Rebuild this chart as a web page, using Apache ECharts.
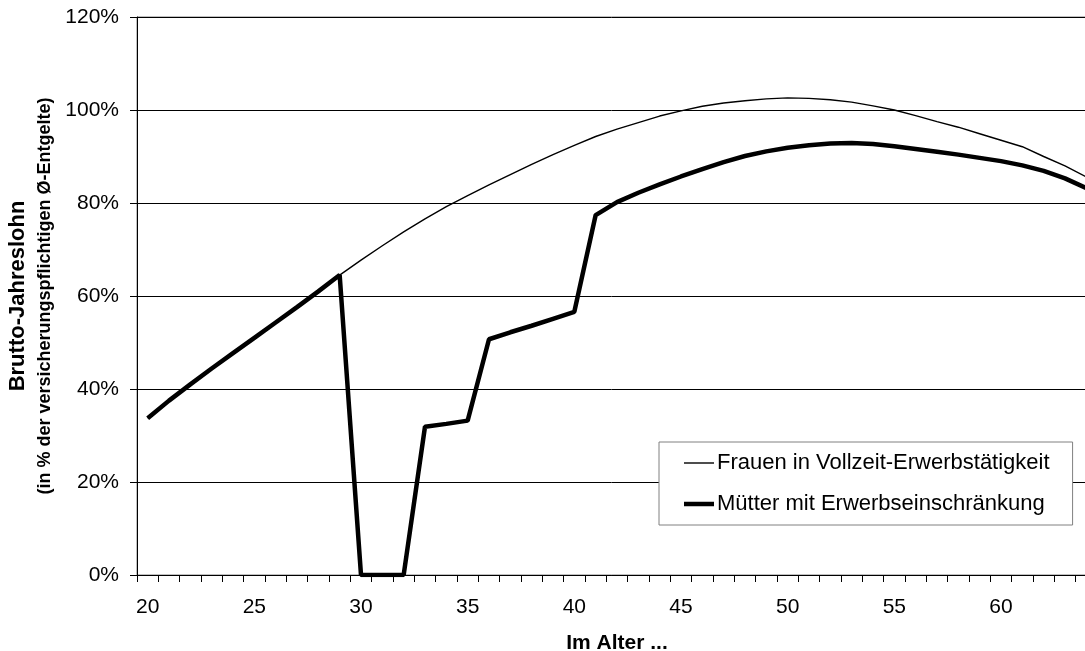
<!DOCTYPE html>
<html>
<head>
<meta charset="utf-8">
<script src="https://cdn.jsdelivr.net/npm/echarts@6/dist/echarts.min.js"></script>
<style>
html,body{margin:0;padding:0;background:#fff;}
#chart{width:1085px;height:651px;}
</style>
</head>
<body>
<div id="chart"></div>
<script>
// Categories: age
const ages = ['20','21','22','23','24','25','26','27','28','29','30','31','32','33','34','35','36','37','38','39','40','41','42','43','44','45','46','47','48','49','50','51','52','53','54','55','56','57','58','59','60','61','62','63','64'];

// Frauen in Vollzeit-Erwerbstätigkeit (% of average insured earnings)
const frauenVollzeit = [33.7,37.5,41.0,44.4,47.7,51.0,54.3,57.6,61.0,64.5,
  67.7,70.8,73.8,76.6,79.2,81.6,83.9,86.1,88.3,90.4,92.4,
  94.3,95.9,97.3,98.7,99.8,100.8,101.5,102.0,102.4,102.6,102.5,102.2,101.7,100.9,100.0,
  98.8,97.5,96.3,94.9,93.5,92.1,90.0,88.0,85.6];

// Mütter mit Erwerbseinschränkung
const muetter = [33.7,37.5,41.0,44.4,47.7,51.0,54.3,57.6,61.0,64.5,
  0,0,0,31.9,32.5,33.2,50.7,52.2,53.6,55.1,56.6,
  77.4,80.2,82.2,84.0,85.7,87.3,88.8,90.1,91.1,91.9,92.4,92.8,92.9,92.7,92.2,
  91.6,91.0,90.4,89.7,89.0,88.1,86.9,85.3,83.2];

const seriesNames = ['Frauen in Vollzeit-Erwerbstätigkeit', 'Mütter mit Erwerbseinschränkung'];
const yTicks = [0, 20, 40, 60, 80, 100, 120];

const FONT = "'Liberation Sans', Arial, sans-serif";

const chart = echarts.init(document.getElementById('chart'), null, {renderer: 'canvas'});
chart.setOption({
  animation: false,
  backgroundColor: '#ffffff',
  textStyle: {fontFamily: FONT, color: '#000'},
  grid: {
    left: 137, top: 17, width: 960, height: 558,
    containLabel: false,
    outerBoundsMode: 'none',
    show: true, borderColor: '#808080', borderWidth: 1, backgroundColor: 'transparent'
  },
  legend: {
    orient: 'vertical',
    left: 659, top: 442,
    padding: [10, 23, 10, 25],
    itemGap: 19,
    itemWidth: 30, itemHeight: 14,
    backgroundColor: '#ffffff',
    borderColor: '#808080', borderWidth: 1, borderRadius: 0,
    textStyle: {fontFamily: FONT, fontSize: 22, color: '#000', padding: [0,0,0,-2]},
    data: [
      {name: seriesNames[0], icon: 'path://M0,0H30V1.4H0Z'},
      {name: seriesNames[1], icon: 'path://M0,0H30V4.5H0Z'}
    ]
  },
  xAxis: {
    type: 'category',
    data: ages,
    boundaryGap: true,
    name: 'Im Alter ...',
    nameLocation: 'middle',
    nameGap: 58,
    nameTextStyle: {fontFamily: FONT, fontSize: 21, fontWeight: 'bold', color: '#000'},
    axisLine: {show: true, lineStyle: {color: '#000', width: 1}},
    axisTick: {show: true, interval: 0, length: 7, lineStyle: {color: '#000'}},
    axisLabel: {interval: 4, margin: 22, fontFamily: FONT, fontSize: 21, color: '#000'},
    splitLine: {show: false}
  },
  yAxis: {
    type: 'value',
    min: 0, max: 120, interval: 20,
    name: '{a|Brutto-Jahreslohn}\n{b|(in % der versicherungspflichtigen Ø-Entgelte)}',
    nameLocation: 'middle',
    nameRotate: 90,
    nameGap: 73,
    nameTextStyle: {
      align: 'center',
      rich: {
        a: {fontFamily: FONT, fontSize: 22, fontWeight: 'bold', color: '#000', lineHeight: 27, align: 'center'},
        b: {fontFamily: FONT, fontSize: 18, fontWeight: 'bold', color: '#000', lineHeight: 27, align: 'center'}
      }
    },
    axisLine: {show: true, lineStyle: {color: '#000', width: 1}},
    axisTick: {show: true, length: 7, lineStyle: {color: '#000'}},
    axisLabel: {
      margin: 18, fontFamily: FONT, fontSize: 21, color: '#000',
      formatter: function (v) { return yTicks.indexOf(v) >= 0 ? v + '%' : ''; }
    },
    splitLine: {show: true, lineStyle: {color: '#000', width: 1}}
  },
  series: [
    {
      name: seriesNames[0], type: 'line', data: frauenVollzeit,
      symbol: 'none', smooth: false, z: 2,
      lineStyle: {color: '#000', width: 1.4},
      itemStyle: {color: '#000'}
    },
    {
      name: seriesNames[1], type: 'line', data: muetter,
      symbol: 'none', smooth: false, z: 3,
      lineStyle: {color: '#000', width: 4.5},
      itemStyle: {color: '#000'}
    }
  ]
});
</script>
</body>
</html>
